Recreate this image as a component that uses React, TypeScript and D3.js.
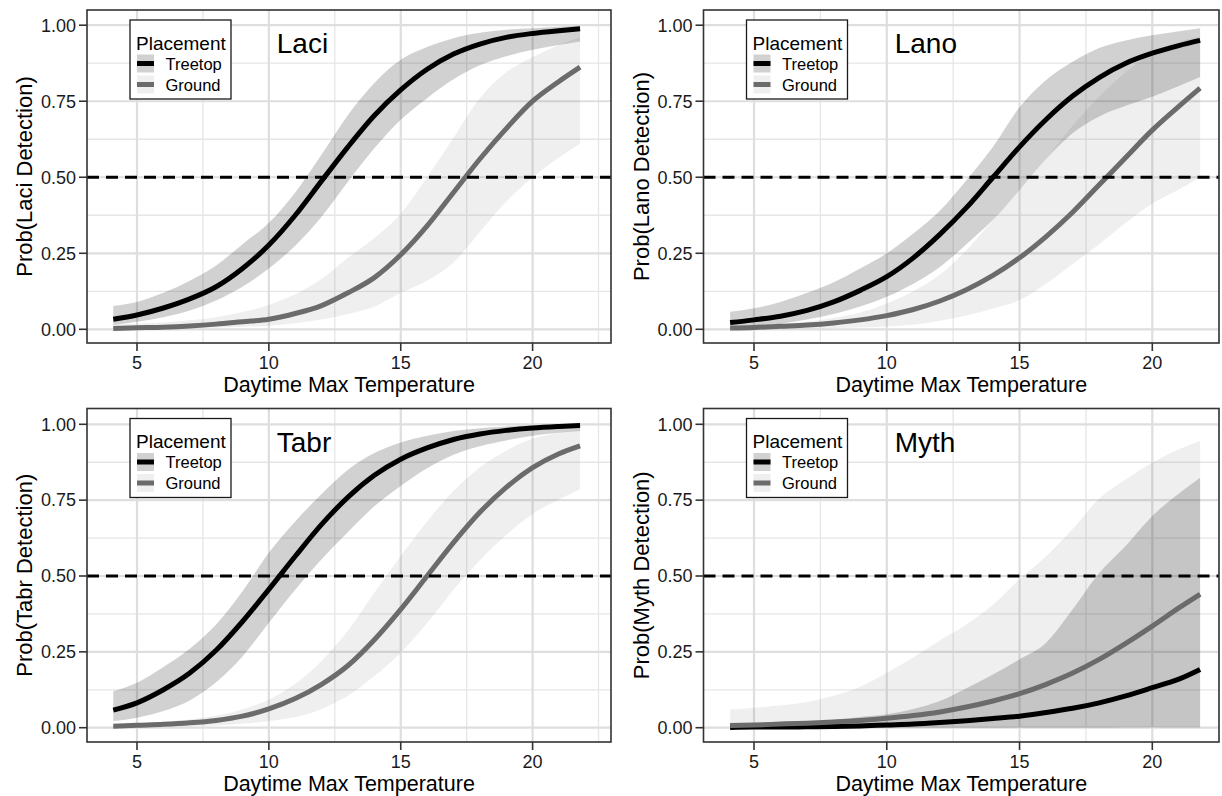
import React, { useRef, useEffect } from "react";
import * as d3 from "d3";

// temperatures at which the fitted curves were read
const temps = [4.1, 5, 6, 7, 8, 9, 10, 11, 12, 13, 14, 15, 16, 17, 18, 19, 20, 21, 21.8];

// Laci
const laciTreeFit = [0.033, 0.047, 0.07, 0.1, 0.14, 0.2, 0.277, 0.375, 0.488, 0.6, 0.703, 0.787, 0.855, 0.905, 0.938, 0.96, 0.973, 0.982, 0.988];
const laciTreeLo = [0.014, 0.025, 0.04, 0.062, 0.095, 0.14, 0.2, 0.275, 0.37, 0.485, 0.595, 0.689, 0.76, 0.822, 0.868, 0.898, 0.919, 0.935, 0.946];
const laciTreeHi = [0.077, 0.09, 0.12, 0.16, 0.21, 0.28, 0.35, 0.45, 0.575, 0.705, 0.81, 0.886, 0.928, 0.957, 0.975, 0.985, 0.99, 0.995, 0.998];
const laciGroundFit = [0.003, 0.005, 0.007, 0.011, 0.017, 0.025, 0.033, 0.052, 0.078, 0.12, 0.17, 0.245, 0.34, 0.45, 0.56, 0.66, 0.75, 0.815, 0.862];
const laciGroundLo = [0, 0.001, 0.002, 0.003, 0.005, 0.008, 0.012, 0.02, 0.032, 0.05, 0.075, 0.12, 0.16, 0.22, 0.32, 0.42, 0.5, 0.565, 0.61];
const laciGroundHi = [0.015, 0.018, 0.022, 0.03, 0.04, 0.057, 0.08, 0.115, 0.165, 0.235, 0.3, 0.38, 0.5, 0.63, 0.76, 0.845, 0.895, 0.935, 0.96];

// Lano
const lanoTreeFit = [0.022, 0.031, 0.043, 0.062, 0.09, 0.128, 0.173, 0.235, 0.312, 0.4, 0.5, 0.6, 0.69, 0.767, 0.828, 0.875, 0.908, 0.933, 0.95];
const lanoTreeLo = [0.003, 0.009, 0.018, 0.032, 0.05, 0.075, 0.107, 0.15, 0.205, 0.28, 0.36, 0.458, 0.56, 0.645, 0.7, 0.735, 0.765, 0.8, 0.83];
const lanoTreeHi = [0.058, 0.069, 0.09, 0.12, 0.155, 0.2, 0.25, 0.315, 0.39, 0.49, 0.6, 0.73, 0.82, 0.88, 0.925, 0.95, 0.967, 0.98, 0.99];
const lanoGroundFit = [0.004, 0.006, 0.01, 0.014, 0.021, 0.031, 0.045, 0.065, 0.093, 0.13, 0.177, 0.235, 0.305, 0.385, 0.475, 0.565, 0.655, 0.733, 0.793];
const lanoGroundLo = [0, 0.001, 0.002, 0.003, 0.004, 0.006, 0.009, 0.015, 0.028, 0.045, 0.068, 0.096, 0.15, 0.215, 0.28, 0.35, 0.414, 0.46, 0.5];
const lanoGroundHi = [0.011, 0.014, 0.019, 0.025, 0.037, 0.055, 0.085, 0.125, 0.18, 0.26, 0.36, 0.458, 0.56, 0.67, 0.765, 0.845, 0.908, 0.945, 0.963];

// Tabr
const tabrTreeFit = [0.058, 0.082, 0.125, 0.18, 0.255, 0.35, 0.456, 0.565, 0.67, 0.76, 0.832, 0.885, 0.922, 0.95, 0.968, 0.98, 0.988, 0.993, 0.996];
const tabrTreeLo = [0.022, 0.033, 0.055, 0.09, 0.15, 0.235, 0.346, 0.455, 0.555, 0.645, 0.73, 0.797, 0.855, 0.9, 0.928, 0.947, 0.962, 0.972, 0.978];
const tabrTreeHi = [0.12, 0.148, 0.2, 0.26, 0.34, 0.45, 0.577, 0.68, 0.77, 0.85, 0.905, 0.94, 0.962, 0.978, 0.987, 0.993, 0.996, 0.998, 0.999];
const tabrGroundFit = [0.005, 0.008, 0.011, 0.016, 0.024, 0.038, 0.062, 0.096, 0.143, 0.205, 0.29, 0.39, 0.5, 0.61, 0.71, 0.792, 0.857, 0.903, 0.929];
const tabrGroundLo = [0, 0.001, 0.002, 0.004, 0.007, 0.013, 0.022, 0.035, 0.062, 0.105, 0.17, 0.247, 0.345, 0.455, 0.552, 0.635, 0.705, 0.752, 0.786];
const tabrGroundHi = [0.011, 0.014, 0.019, 0.027, 0.04, 0.06, 0.093, 0.145, 0.22, 0.32, 0.445, 0.566, 0.68, 0.78, 0.858, 0.913, 0.952, 0.972, 0.984];

// Myth
const mythTreeFit = [0.001, 0.002, 0.002, 0.003, 0.004, 0.006, 0.009, 0.012, 0.017, 0.023, 0.03, 0.038, 0.05, 0.064, 0.082, 0.105, 0.132, 0.16, 0.192];
const mythTreeLo = [0, 0, 0, 0, 0, 0, 0, 0, 0, 0, 0, 0, 0, 0, 0, 0.001, 0.001, 0.001, 0.001];
const mythTreeHi = [0.011, 0.013, 0.016, 0.02, 0.026, 0.035, 0.044, 0.062, 0.088, 0.13, 0.175, 0.225, 0.28, 0.39, 0.51, 0.6, 0.698, 0.772, 0.824];
const mythGroundFit = [0.007, 0.009, 0.012, 0.015, 0.019, 0.024, 0.031, 0.04, 0.052, 0.068, 0.088, 0.112, 0.143, 0.18, 0.225, 0.278, 0.335, 0.395, 0.44];
const mythGroundLo = [0, 0, 0, 0, 0, 0, 0.001, 0.001, 0.001, 0.001, 0.001, 0.002, 0.002, 0.002, 0.002, 0.003, 0.003, 0.003, 0.003];
const mythGroundHi = [0.06, 0.066, 0.074, 0.085, 0.105, 0.135, 0.181, 0.232, 0.287, 0.34, 0.405, 0.489, 0.565, 0.655, 0.755, 0.818, 0.874, 0.918, 0.945];

const species = ["Laci", "Lano", "Tabr", "Myth"];
const placements = ["Treetop", "Ground"];
const xTicks = [5, 10, 15, 20];
const yTicks = [0, 0.25, 0.5, 0.75, 1];

const fontFamily = "'Liberation Sans', Arial, Helvetica, sans-serif";
const lineColor = ["#000000", "#6b6b6b"];
const ribbonFill = ["#000000", "#666666"];
const ribbonOpacity = [0.18, 0.1];

export default function App() {
  const ref = useRef<SVGSVGElement>(null);

  useEffect(() => {
    const svg = d3.select(ref.current);
    svg.selectAll("*").remove();
    svg.style("font-family", fontFamily);

    // panel boxes (pixels) – two columns, two rows
    const cols = [
      { left: 87, right: 611, x5: 137, x20: 532.6 },
      { left: 703.5, right: 1219, x5: 754, x20: 1152.3 }
    ];
    const rows = [
      { top: 10, bottom: 343, y0: 329.3, y1: 25.2 },
      { top: 408.5, bottom: 742, y0: 727.7, y1: 424.3 }
    ];

    const series: Record<string, number[][][]> = {
      Laci: [[laciTreeFit, laciTreeLo, laciTreeHi], [laciGroundFit, laciGroundLo, laciGroundHi]],
      Lano: [[lanoTreeFit, lanoTreeLo, lanoTreeHi], [lanoGroundFit, lanoGroundLo, lanoGroundHi]],
      Tabr: [[tabrTreeFit, tabrTreeLo, tabrTreeHi], [tabrGroundFit, tabrGroundLo, tabrGroundHi]],
      Myth: [[mythTreeFit, mythTreeLo, mythTreeHi], [mythGroundFit, mythGroundLo, mythGroundHi]]
    };

    species.forEach((name, i) => {
      const col = cols[i % 2];
      const row = rows[Math.floor(i / 2)];
      const x = d3.scaleLinear().domain([5, 20]).range([col.x5, col.x20]);
      const y = d3.scaleLinear().domain([0, 1]).range([row.y0, row.y1]);
      const g = svg.append("g");

      g.append("rect")
        .attr("x", col.left).attr("y", row.top)
        .attr("width", col.right - col.left).attr("height", row.bottom - row.top)
        .attr("fill", "#fff");

      // grid
      const tMin = x.invert(col.left), tMax = x.invert(col.right);
      const xMinor = [2.5, 7.5, 12.5, 17.5, 22.5].filter(v => v > tMin && v < tMax + 0.05);
      const yMinor = [0.125, 0.375, 0.625, 0.875];
      g.selectAll("line.vminor").data(xMinor).join("line")
        .attr("x1", d => x(d)).attr("x2", d => x(d))
        .attr("y1", row.top).attr("y2", row.bottom)
        .attr("stroke", "#e6e6e6").attr("stroke-width", 1.3);
      g.selectAll("line.hminor").data(yMinor).join("line")
        .attr("x1", col.left).attr("x2", col.right)
        .attr("y1", d => y(d)).attr("y2", d => y(d))
        .attr("stroke", "#e6e6e6").attr("stroke-width", 1.3);
      g.selectAll("line.vmajor").data(xTicks).join("line")
        .attr("x1", d => x(d)).attr("x2", d => x(d))
        .attr("y1", row.top).attr("y2", row.bottom)
        .attr("stroke", "#dedede").attr("stroke-width", 2.2);
      g.selectAll("line.hmajor").data(yTicks).join("line")
        .attr("x1", col.left).attr("x2", col.right)
        .attr("y1", d => y(d)).attr("y2", d => y(d))
        .attr("stroke", "#dedede").attr("stroke-width", 2.2);

      // ribbons
      series[name].forEach((s, k) => {
        const area = d3.area<number>()
          .x((_, j) => x(temps[j]))
          .y0((_, j) => y(s[1][j]))
          .y1((_, j) => y(s[2][j]))
          .curve(d3.curveMonotoneX);
        g.append("path")
          .attr("d", area(temps))
          .attr("fill", ribbonFill[k])
          .attr("fill-opacity", ribbonOpacity[k]);
      });

      // fitted lines
      series[name].forEach((s, k) => {
        const line = d3.line<number>()
          .x((_, j) => x(temps[j]))
          .y(d => y(d))
          .curve(d3.curveMonotoneX);
        g.append("path")
          .attr("d", line(s[0]))
          .attr("fill", "none")
          .attr("stroke", lineColor[k])
          .attr("stroke-width", 5);
      });

      // 0.5 reference
      g.append("line")
        .attr("x1", col.left).attr("x2", col.right)
        .attr("y1", y(0.5)).attr("y2", y(0.5))
        .attr("stroke", "#000").attr("stroke-width", 2.8)
        .attr("stroke-dasharray", "12 7");

      // border
      g.append("rect")
        .attr("x", col.left).attr("y", row.top)
        .attr("width", col.right - col.left).attr("height", row.bottom - row.top)
        .attr("fill", "none").attr("stroke", "#333").attr("stroke-width", 1.6);

      // y axis
      g.selectAll("line.yt").data(yTicks).join("line")
        .attr("x1", col.left - 8).attr("x2", col.left)
        .attr("y1", d => y(d)).attr("y2", d => y(d))
        .attr("stroke", "#333").attr("stroke-width", 1.6);
      g.selectAll("text.yl").data(yTicks).join("text")
        .attr("x", col.left - 11).attr("y", d => y(d))
        .attr("dy", "0.35em").attr("text-anchor", "end")
        .attr("font-size", 18).attr("fill", "#1a1a1a")
        .text(d => d3.format(".2f")(d));

      // x axis
      g.selectAll("line.xt").data(xTicks).join("line")
        .attr("x1", d => x(d)).attr("x2", d => x(d))
        .attr("y1", row.bottom).attr("y2", row.bottom + 8)
        .attr("stroke", "#333").attr("stroke-width", 1.6);
      g.selectAll("text.xl").data(xTicks).join("text")
        .attr("x", d => x(d)).attr("y", row.bottom + 26)
        .attr("text-anchor", "middle")
        .attr("font-size", 18).attr("fill", "#1a1a1a")
        .text(d => d);

      // axis titles
      g.append("text")
        .attr("x", (col.left + col.right) / 2).attr("y", row.bottom + 48.5)
        .attr("text-anchor", "middle").attr("font-size", 21.5).attr("fill", "#000")
        .text("Daytime Max Temperature");
      g.append("text")
        .attr("transform", `translate(${col.left - 55},${(row.top + row.bottom) / 2}) rotate(-90)`)
        .attr("text-anchor", "middle").attr("font-size", 22).attr("fill", "#000")
        .text(`Prob(${name} Detection)`);

      // species label
      g.append("text")
        .attr("x", x(10.3)).attr("y", y(0.908))
        .attr("font-size", 28).attr("fill", "#000")
        .text(name);

      // legend
      const lg = g.append("g").attr("transform", `translate(${col.left + 43},${row.top + 10})`);
      lg.append("rect")
        .attr("width", 101).attr("height", 79)
        .attr("fill", "#fff").attr("stroke", "#1a1a1a").attr("stroke-width", 1.3);
      lg.append("text")
        .attr("x", 6).attr("y", 29.5)
        .attr("font-size", 19).attr("fill", "#000")
        .text("Placement");
      placements.forEach((p, k) => {
        const ky = 34.5 + k * 21;
        lg.append("rect")
          .attr("x", 7).attr("y", ky).attr("width", 17).attr("height", 18)
          .attr("fill", ribbonFill[k]).attr("fill-opacity", ribbonOpacity[k]);
        lg.append("line")
          .attr("x1", 7).attr("x2", 24)
          .attr("y1", ky + 9).attr("y2", ky + 9)
          .attr("stroke", lineColor[k]).attr("stroke-width", 5);
        lg.append("text")
          .attr("x", 35.5).attr("y", ky + 15)
          .attr("font-size", 16.5).attr("fill", "#000")
          .text(p);
      });
    });
  }, []);

  return (
    <svg
      ref={ref}
      width={1222}
      height={796}
      style={{ position: "absolute", left: 0, top: 0, background: "#fff" }}
    />
  );
}
